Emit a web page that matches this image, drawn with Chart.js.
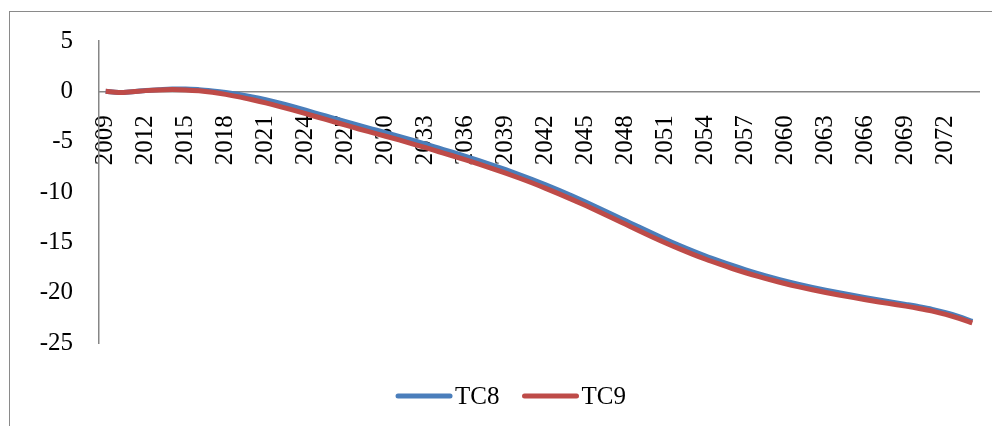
<!DOCTYPE html>
<html>
<head>
<meta charset="utf-8">
<script src="https://cdn.jsdelivr.net/npm/chart.js@4.4.1/dist/chart.umd.min.js"></script>
<style>
  html, body { margin: 0; padding: 0; background: #fff; overflow: hidden; }
  #wrap { position: relative; width: 992px; height: 426px; }
  #frame {
    position: absolute; left: 9px; top: 11px; width: 1000px; height: 500px;
    border-left: 1px solid #8a8a8a; border-top: 1px solid #8a8a8a;
  }
  #chart { position: absolute; left: 0; top: 0; }
</style>
</head>
<body>
<div id="wrap">
  <div id="frame"></div>
  <canvas id="chart" width="992" height="426"></canvas>
</div>
<script>
// years 2009..2074
const years = [];
for (let y = 2009; y <= 2074; y++) years.push(String(y));

const tc8 = [
  0.0, -0.12, -0.04, 0.08, 0.17, 0.24, 0.24, 0.17, 0.04, -0.12,
  -0.32, -0.56, -0.84, -1.16, -1.51, -1.88, -2.26, -2.64, -3.02, -3.39,
  -3.75, -4.11, -4.48, -4.86, -5.25, -5.65, -6.05, -6.46, -6.88, -7.32,
  -7.78, -8.26, -8.76, -9.29, -9.84, -10.41, -11.0, -11.61, -12.23, -12.86,
  -13.49, -14.11, -14.71, -15.29, -15.84, -16.36, -16.84, -17.3, -17.73, -18.13,
  -18.5, -18.85, -19.17, -19.47, -19.75, -20.01, -20.26, -20.5, -20.73, -20.95,
  -21.17, -21.4, -21.66, -21.98, -22.38, -22.85
];

const tc9 = [
  0.0, -0.12, -0.04, 0.07, 0.14, 0.17, 0.14, 0.05, -0.1, -0.3,
  -0.55, -0.84, -1.15, -1.49, -1.85, -2.22, -2.6, -2.98, -3.36, -3.74,
  -4.1, -4.46, -4.83, -5.21, -5.6, -6.0, -6.4, -6.81, -7.23, -7.67,
  -8.13, -8.61, -9.11, -9.64, -10.19, -10.76, -11.35, -11.96, -12.58, -13.21,
  -13.84, -14.46, -15.06, -15.63, -16.17, -16.68, -17.15, -17.6, -18.02, -18.41,
  -18.77, -19.11, -19.42, -19.71, -19.98, -20.23, -20.47, -20.7, -20.92, -21.13,
  -21.34, -21.57, -21.83, -22.15, -22.55, -23.0
];

const yTicks = [5, 0, -5, -10, -15, -20, -25];

const FONT = "'Liberation Serif', 'Times New Roman', serif";
const FONT_SIZE = 25;

// legend drawn underneath the plot, line swatch + name
const bottomLegend = {
  id: 'bottomLegend',
  afterDraw(chart) {
    const ctx = chart.ctx;
    const sets = chart.data.datasets;
    const lineLen = 56, gap = 3, itemGap = 23;
    ctx.save();
    ctx.font = FONT_SIZE + 'px ' + FONT;
    const widths = sets.map(d => lineLen + gap + ctx.measureText(d.label).width);
    const total = widths.reduce((a, b) => a + b, 0) + itemGap * (sets.length - 1);
    let x = 511 - total / 2;
    const y = 396;
    sets.forEach((d, i) => {
      ctx.strokeStyle = d.borderColor;
      ctx.lineWidth = 5;
      ctx.lineCap = 'round';
      ctx.beginPath();
      ctx.moveTo(x + 2, y);
      ctx.lineTo(x + lineLen - 2, y);
      ctx.stroke();
      ctx.fillStyle = '#000';
      ctx.textBaseline = 'middle';
      ctx.textAlign = 'left';
      ctx.fillText(d.label, x + lineLen + gap, y + 1);
      x += widths[i] + itemGap;
    });
    ctx.restore();
  }
};

function draw() {
  new Chart(document.getElementById('chart'), {
    type: 'line',
    data: {
      labels: years,
      datasets: [
        {
          label: 'TC8',
          data: tc8,
          borderColor: '#4a7ebb',
          borderWidth: 5,
          pointRadius: 0,
          cubicInterpolationMode: 'monotone',
          order: 2
        },
        {
          label: 'TC9',
          data: tc9,
          borderColor: '#be4b48',
          borderWidth: 5,
          pointRadius: 0,
          cubicInterpolationMode: 'monotone',
          order: 1
        }
      ]
    },
    options: {
      responsive: false,
      animation: false,
      layout: { padding: { left: 0, top: 41, right: 13, bottom: 83 } },
      plugins: {
        legend: { display: false },
        tooltip: { enabled: false }
      },
      scales: {
        x: {
          type: 'category',
          position: { y: 0 },
          offset: true,
          afterFit: scale => { scale.paddingLeft = 0; scale.paddingRight = 0; },
          grid: { display: false, drawTicks: false },
          border: { display: true, color: '#868686', width: 1.5 },
          ticks: {
            autoSkip: false,
            minRotation: 90,
            maxRotation: 90,
            padding: 24,
            color: '#000',
            font: { family: FONT, size: FONT_SIZE },
            callback: function (val, i) {
              return i % 3 === 0 ? this.getLabelForValue(val) : '';
            }
          }
        },
        y: {
          min: -25,
          max: 5,
          afterBuildTicks: scale => { scale.ticks = yTicks.map(v => ({ value: v })); },
          afterFit: scale => { scale.width = 99; },
          grid: { display: false, drawTicks: false },
          border: { display: true, color: '#868686', width: 1.5 },
          ticks: {
            padding: 26,
            color: '#000',
            font: { family: FONT, size: FONT_SIZE }
          }
        }
      }
    },
    plugins: [bottomLegend]
  });
}

if (document.fonts && document.fonts.load) {
  document.fonts.load(FONT_SIZE + 'px "Liberation Serif"').then(draw, draw);
} else {
  draw();
}
</script>
</body>
</html>
